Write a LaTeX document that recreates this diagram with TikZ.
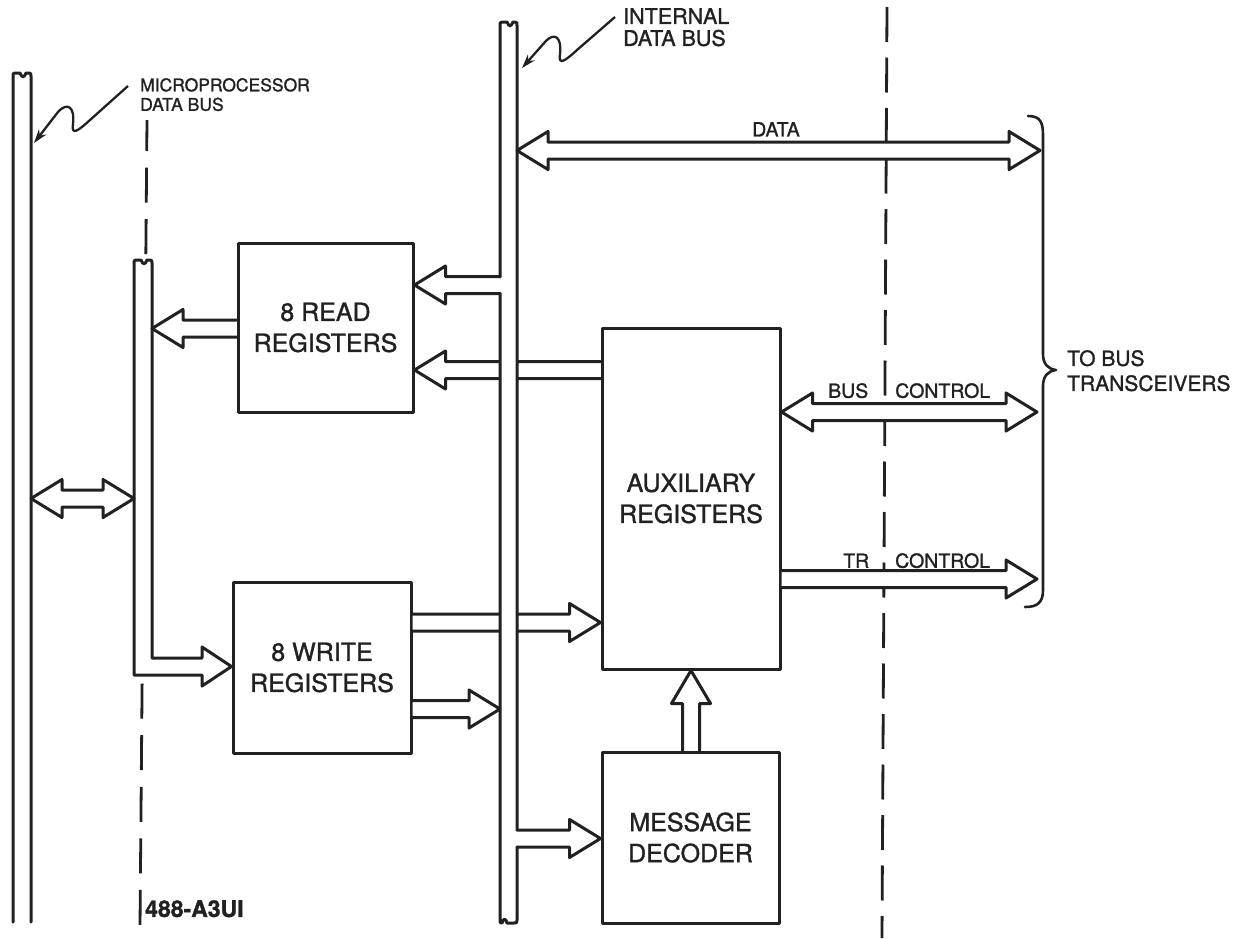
\documentclass[tikz,border=0pt]{standalone}
\usepackage{fontspec}
\setmainfont{TeX Gyre Heros}[FakeBold=1.2]
\usetikzlibrary{arrows.meta,calc}
\definecolor{inkc}{gray}{0.13}
\tikzset{
  ink/.style={draw=inkc, line width=3pt, line join=round, line cap=round},
  fat/.style={ink, fill=white},
  box/.style={ink, rectangle, inner sep=0pt, align=center, text=inkc, font=\fontsize{25}{31}\selectfont},
  lbl/.style={inner sep=0pt, text=inkc, anchor=north west, align=left},
  dashline/.style={draw=inkc, line width=2.8pt},
  leader/.style={draw=inkc, line width=2.3pt, -{Stealth[length=14pt,width=9pt]}},
}
% fat outline arrows: tail, tip
\newcommand\fatR[2]{\filldraw[fat] let \p1=#1, \p2=#2 in (\x1,\y2+8.5pt) -- (\x2-31pt,\y2+8.5pt) -- (\x2-31pt,\y2+19pt) -- (\x2,\y2) -- (\x2-31pt,\y2-19pt) -- (\x2-31pt,\y2-8.5pt) -- (\x1,\y2-8.5pt);}
\newcommand\fatL[2]{\filldraw[fat] let \p1=#1, \p2=#2 in (\x1,\y2+8.5pt) -- (\x2+31pt,\y2+8.5pt) -- (\x2+31pt,\y2+19pt) -- (\x2,\y2) -- (\x2+31pt,\y2-19pt) -- (\x2+31pt,\y2-8.5pt) -- (\x1,\y2-8.5pt);}
\newcommand\fatLR[2]{\filldraw[fat] let \p1=#1, \p2=#2 in (\x1,\y1) -- (\x1+31pt,\y1+19pt) -- (\x1+31pt,\y1+8.5pt) -- (\x2-31pt,\y1+8.5pt) -- (\x2-31pt,\y1+19pt) -- (\x2,\y1) -- (\x2-31pt,\y1-19pt) -- (\x2-31pt,\y1-8.5pt) -- (\x1+31pt,\y1-8.5pt) -- (\x1+31pt,\y1-19pt) -- cycle;}
\newcommand\fatU[2]{\filldraw[fat] let \p1=#1, \p2=#2 in (\x2-8.5pt,\y1) -- (\x2-8.5pt,\y2-33pt) -- (\x2-19.5pt,\y2-33pt) -- (\x2,\y2) -- (\x2+19.5pt,\y2-33pt) -- (\x2+8.5pt,\y2-33pt) -- (\x2+8.5pt,\y1);}
\begin{document}
\begin{tikzpicture}[x=1pt,y=-1pt]
\fill[white] (0,0) rectangle (1235,938);
\useasboundingbox (0,0) rectangle (1235,938);
% dashed separation lines
\draw[dashline, dash pattern=on 35pt off 16.6pt, dash phase=4pt] (147,120) -- (140,927);
\draw[dashline, dash pattern=on 35pt off 15.5pt] (887,7) -- (882,938);
% bus edge coordinates
\coordinate (b1R) at (31,0);
\coordinate (b2L) at (134,0);
\coordinate (b2R) at (152,0);
\coordinate (ibL) at (500,0);
\coordinate (ibR) at (517,0);
\coordinate (dataend) at (1040,0);
\coordinate (ctlend) at (1037,0);
% boxes
\node[box, minimum width=175pt, minimum height=169pt] (read) at (325.5,327.5) {8 READ\\REGISTERS};
\node[box, minimum width=178pt, minimum height=171pt] (write) at (322,667.5) {8 WRITE\\REGISTERS};
\node[box, minimum width=178pt, minimum height=341pt] (aux) at (691,498.5) {AUXILIARY\\REGISTERS};
\node[box, minimum width=177pt, minimum height=171pt] (dec) at (690.5,837.5) {MESSAGE\\DECODER};
% arrows passing under the internal bus
\fatL{(aux.west |- 0,370)}{(read.east |- 0,370)}
\fatR{(write.east |- 0,622.5)}{(aux.west |- 0,622.5)}
% microprocessor data bus
\filldraw[ink, fill=white] (13,922) -- (13,76) .. controls (13,73) .. (16,73) -- (20,73) .. controls (22,78) and (24,78) .. (26,73) -- (28,73) .. controls (31,73) .. (31,76) -- (31,922);
% second (local) bus, ending in the arrow into the write registers
\filldraw[ink, fill=white] (134,675) -- (134,263) .. controls (134,260) .. (137,260) -- (141,260) .. controls (143,265) and (145,265) .. (147,260) -- (149,260) .. controls (152,260) .. (152,263) -- (152,658) -- (202,658) -- (202,647) -- (write.west |- 0,666.5) -- (202,686) -- (202,675) -- cycle;
% internal data bus
\fill[white] (500,22) rectangle (517,923);
\draw[ink] (500,277) -- (500,26) .. controls (500,22) .. (503,22) -- (507,22) .. controls (509,27) and (511,27) .. (513,22) -- (514,22) .. controls (517,22) .. (517,26) -- (517,830);
\draw[ink] (500,293) -- (500,920) .. controls (500,923) .. (502,923) .. controls (503,918) and (506,918) .. (507,923) -- (514,923) .. controls (517,923) .. (517,920) -- (517,847);
% other arrows
\fatLR{(ibR |- 0,150.5)}{(dataend |- 0,150.5)}
\fatL{(ibL |- 0,285)}{(read.east |- 0,285)}
\fatL{(read.west |- 0,328.5)}{(b2R |- 0,328.5)}
\fatLR{(b1R |- 0,498.5)}{(b2L |- 0,498.5)}
\fatLR{(aux.east |- 0,412)}{(ctlend |- 0,412)}
\fatR{(aux.east |- 0,579)}{(ctlend |- 0,579)}
\fatR{(write.east |- 0,709)}{(ibL |- 0,709)}
\fatR{(ibR |- 0,838.5)}{(dec.west |- 0,838.5)}
\fatU{(dec.north)}{(aux.south)}
% brace
\draw[ink, line width=2.6pt] (1028,116) .. controls (1040,116) and (1043,122) .. (1043,135) -- (1043,354) .. controls (1043,364) and (1048,369) .. (1056,370) .. controls (1048,371) and (1043,376) .. (1043,386) -- (1043,590) .. controls (1043,602) and (1038,607) .. (1025,607);
% leaders
\draw[leader] (128,86) -- (90,120) .. controls (78,131) and (71,136) .. (73,124) .. controls (75,108) and (68,101) .. (58,112) -- (34,143);
\draw[leader] (615,17) -- (577,50) .. controls (565,61) and (558,66) .. (560,54) .. controls (562,38) and (555,31) .. (545,42) -- (522,68);
% labels
\node[lbl, font=\fontsize{17.5}{19.5}\selectfont] (mplabel) at (140,78) {MICROPROCESSOR\\DATA BUS};
\node[lbl, font=\fontsize{21.5}{22}\selectfont] (iblabel) at (623,8) {INTERNAL\\DATA BUS};
\node[lbl, font=\fontsize{19.5}{20}\selectfont] (datalbl) at (752,122) {DATA};
\node[lbl, font=\fontsize{19.5}{20}\selectfont] (bclbl) at (828,383) {BUS\hspace{27pt}CONTROL};
\node[lbl, font=\fontsize{19.5}{20}\selectfont] (trlbl) at (843,553) {TR\hspace{26pt}CONTROL};
\node[lbl, font=\fontsize{21}{25}\selectfont] (tolbl) at (1067,350) {TO BUS\\TRANSCEIVERS};
\node[lbl, font=\bfseries\fontsize{23}{24}\selectfont] (figno) at (145,900) {488-A3UI};
\end{tikzpicture}
\end{document}
